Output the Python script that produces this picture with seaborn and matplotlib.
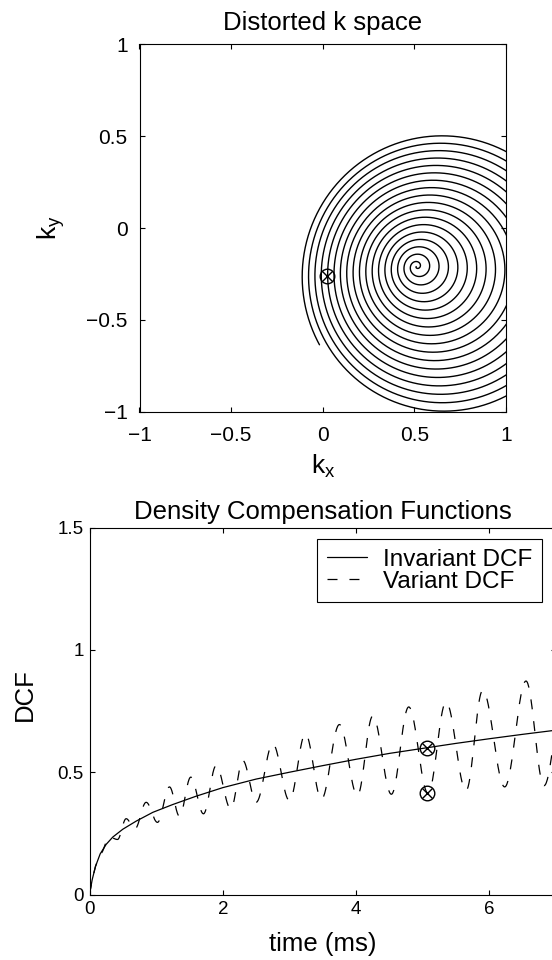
import numpy as np
import pandas as pd
import matplotlib
matplotlib.use("Agg")
import matplotlib.pyplot as plt
import seaborn as sns

# ---------------- data ----------------
# top panel: distorted spiral k-space trajectory
k_ticks = [-1, -0.5, 0, 0.5, 1]
k_tick_labels = ["\u22121", "\u22120.5", "0", "0.5", "1"]
spiral_turns = 18
spiral_outer_radius = 0.775
spiral_centre_start = (0.51, -0.21)
spiral_centre_end = (0.66, -0.26)
spiral_end_angle_deg = 209.0
kspace_marker_x = [0.023]
kspace_marker_y = [-0.26]

# bottom panel: density compensation functions
time_ticks = [0, 2, 4, 6]
time_tick_labels = ["0", "2", "4", "6"]
dcf_ticks = [0, 0.5, 1, 1.5]
dcf_tick_labels = ["0", "0.5", "1", "1.5"]

invariant_t = [0.0, 0.04, 0.09, 0.16, 0.25, 0.35, 0.5, 0.7, 0.95, 1.25, 1.6,
               2.0, 2.5, 3.0, 3.5, 4.0, 4.5, 5.06, 5.5, 6.0, 6.5, 7.0]
invariant_dcf = [0.0, 0.06, 0.115, 0.166, 0.205, 0.235, 0.267, 0.30, 0.336, 0.368, 0.402,
                 0.437, 0.472, 0.50, 0.527, 0.553, 0.577, 0.60, 0.618, 0.637, 0.655, 0.672]

# variant DCF: initial rise, then its successive peaks and troughs
variant_rise_t = [0.0, 0.04, 0.09, 0.16]
variant_rise_dcf = [0.0, 0.06, 0.115, 0.166]
variant_ext_t = [0.16, 0.3, 0.42, 0.55, 0.68, 0.85, 1.02, 1.2, 1.35, 1.52, 1.71, 1.9,
                 2.12, 2.3, 2.5, 2.75, 3.0, 3.24, 3.48, 3.75, 4.02, 4.25, 4.53, 4.79,
                 5.08, 5.35, 5.65, 5.9, 6.23, 6.55, 6.82, 7.15]
variant_ext_dcf = [0.166, 0.235, 0.225, 0.31, 0.268, 0.377, 0.295, 0.44, 0.32, 0.48, 0.33, 0.527,
                   0.35, 0.548, 0.377, 0.616, 0.384, 0.657, 0.39, 0.695, 0.405, 0.73, 0.41, 0.767,
                   0.414, 0.787, 0.425, 0.835, 0.44, 0.873, 0.445, 0.90]

dcf_marker_t = [5.06, 5.06]
dcf_marker_y = [0.60, 0.414]

# ---------------- build curves ----------------
u = np.linspace(0.0, 1.0, 8000)
theta = np.deg2rad(spiral_end_angle_deg) - 2 * np.pi * spiral_turns * (1 - u)
cx = spiral_centre_start[0] + (spiral_centre_end[0] - spiral_centre_start[0]) * u
cy = spiral_centre_start[1] + (spiral_centre_end[1] - spiral_centre_start[1]) * u
spiral = pd.DataFrame({"kx": cx + spiral_outer_radius * u * np.cos(theta),
                       "ky": cy + spiral_outer_radius * u * np.sin(theta)})

seg_t, seg_y = list(variant_rise_t[:-1]), list(variant_rise_dcf[:-1])
s = np.linspace(0, 1, 40)
for i in range(len(variant_ext_t) - 1):
    t0, t1 = variant_ext_t[i], variant_ext_t[i + 1]
    y0, y1 = variant_ext_dcf[i], variant_ext_dcf[i + 1]
    seg_t.extend(t0 + (t1 - t0) * s[:-1])
    seg_y.extend(y0 + (y1 - y0) * (1 - np.cos(np.pi * s[:-1])) / 2)
seg_t.append(variant_ext_t[-1]); seg_y.append(variant_ext_dcf[-1])
variant = pd.DataFrame({"t": seg_t, "dcf": seg_y})
invariant = pd.DataFrame({"t": invariant_t, "dcf": invariant_dcf})

# ---------------- style ----------------
sns.set_theme(style="white")
plt.rcParams["font.family"] = ["Liberation Sans", "DejaVu Sans"]
plt.rcParams["mathtext.fontset"] = "custom"
plt.rcParams["mathtext.rm"] = "Liberation Sans"
plt.rcParams["mathtext.default"] = "regular"
plt.rcParams["lines.scale_dashes"] = False
plt.rcParams["text.color"] = "black"
plt.rcParams["axes.labelcolor"] = "black"
plt.rcParams["xtick.color"] = "black"
plt.rcParams["ytick.color"] = "black"

W, H = 552, 960
fig = plt.figure(figsize=(W / 100, H / 100), dpi=100)
fig.patch.set_facecolor("white")

def px_axes(left, top, right, bottom):
    return fig.add_axes([left / W, 1 - bottom / H, (right - left) / W, (bottom - top) / H])

def style_axes(ax, fs, xpad, ypad):
    for sp in ax.spines.values():
        sp.set_visible(True)
        sp.set_color("black")
        sp.set_linewidth(0.8)
    ax.tick_params(axis="both", which="major", direction="in", length=3.6, width=0.8,
                   color="black", labelsize=fs, top=True, right=True,
                   bottom=True, left=True, labelcolor="black")
    ax.tick_params(axis="x", pad=xpad)
    ax.tick_params(axis="y", pad=ypad)
    ax.set_facecolor("white")

# top panel
ax1 = px_axes(139.5, 44.3, 506, 411.7)
sns.lineplot(data=spiral, x="kx", y="ky", sort=False, estimator=None,
             color="black", linewidth=1.0, ax=ax1)
ax1.plot(kspace_marker_x, kspace_marker_y, "o", mfc="none", mec="black", ms=10.5, mew=1.0)
ax1.plot(kspace_marker_x, kspace_marker_y, "x", color="black", ms=7.5, mew=1.0)
ax1.set_xlim(-1, 1)
ax1.set_ylim(-1, 1)
ax1.set_xticks(k_ticks, k_tick_labels)
ax1.set_yticks(k_ticks, k_tick_labels)
style_axes(ax1, 15, 10, 8.5)
ax1.set_xlabel("$k_x$", fontsize=19, labelpad=6)
ax1.set_ylabel("$k_y$", fontsize=19, labelpad=14)
ax1.set_title("Distorted k space", fontsize=18.5, pad=10, color="black")

# bottom panel
ax2 = px_axes(89.5, 527.7, 556, 894.5)
sns.lineplot(data=invariant, x="t", y="dcf", sort=False, estimator=None,
             color="black", linewidth=0.9, ax=ax2, label="Invariant DCF")
sns.lineplot(data=variant, x="t", y="dcf", sort=False, estimator=None,
             color="black", linewidth=0.9, linestyle=(0, (7.2, 8.6)), ax=ax2,
             label="Variant DCF")
ax2.plot(dcf_marker_t, dcf_marker_y, "o", mfc="none", mec="black", ms=10.5, mew=1.0)
ax2.plot(dcf_marker_t, dcf_marker_y, "x", color="black", ms=7.5, mew=1.0)
ax2.set_xlim(0, 7)
ax2.set_ylim(0, 1.5)
ax2.set_xticks(time_ticks, time_tick_labels)
ax2.set_yticks(dcf_ticks, dcf_tick_labels)
style_axes(ax2, 13.5, 5, 4)
ax2.set_xlabel("time (ms)", fontsize=18.5, labelpad=10)
ax2.set_ylabel("DCF", fontsize=18.5)
ax2.yaxis.set_label_coords((37 - 89.5) / (556 - 89.5), (894.5 - 695) / (894.5 - 527.7))
ax2.set_title("Density Compensation Functions", fontsize=18.5, pad=6, color="black")
leg = ax2.legend(loc="upper right", bbox_to_anchor=((542 - 89.5) / (556 - 89.5), (894.5 - 539) / (894.5 - 527.7)),
                 borderaxespad=0, fontsize=17.5, frameon=True, fancybox=False,
                 framealpha=1, edgecolor="black", handlelength=1.65, handletextpad=0.65,
                 labelspacing=0.0, borderpad=0.4)
leg.get_frame().set_linewidth(0.8)
for txt in leg.get_texts():
    txt.set_color("black")

fig.savefig("out.png", dpi=100, facecolor="white")
